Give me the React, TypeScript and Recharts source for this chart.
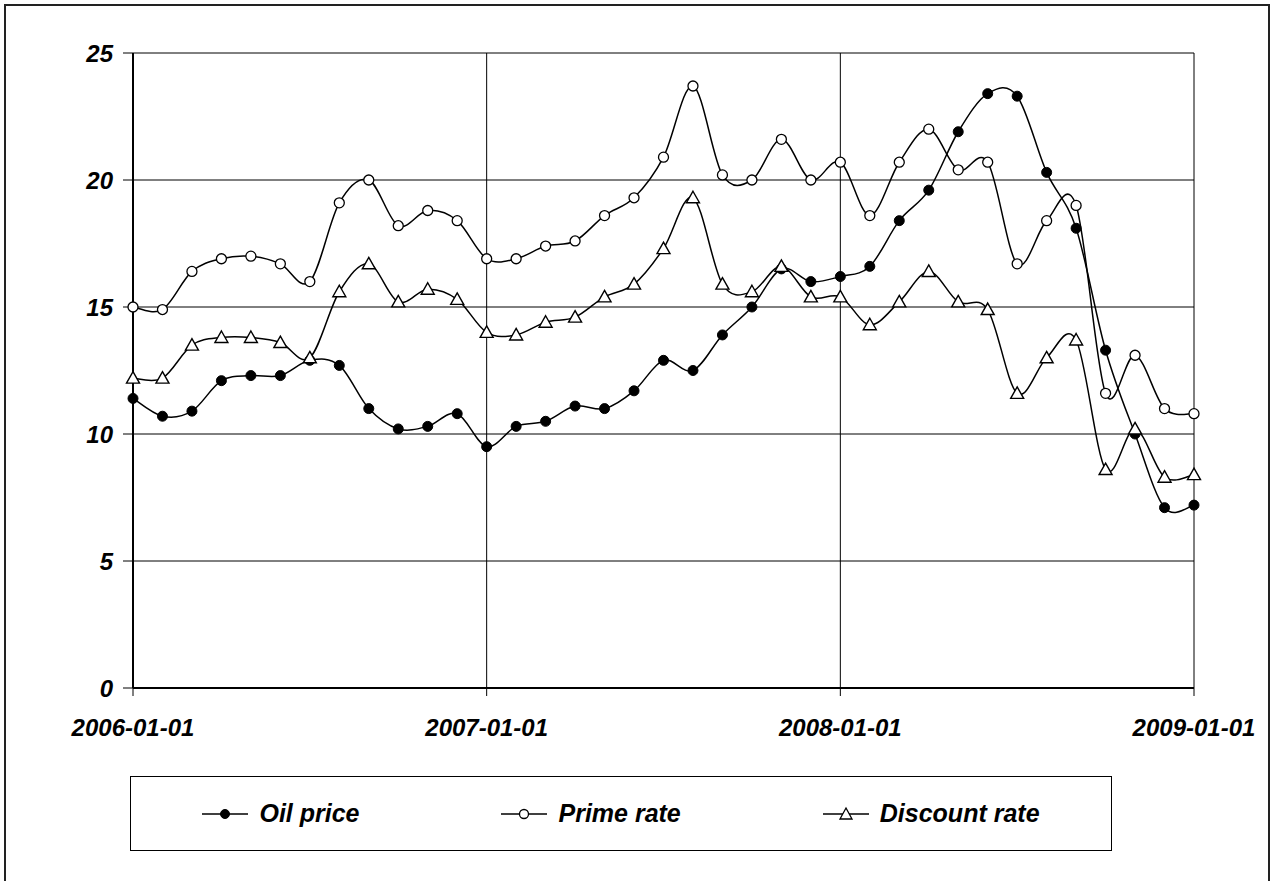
import React from "react"
import { LineChart, Line, XAxis, YAxis, CartesianGrid, Legend } from "recharts"

const months = [
  "2006-01", "2006-02", "2006-03", "2006-04", "2006-05", "2006-06", "2006-07", "2006-08", "2006-09", "2006-10", "2006-11", "2006-12",
  "2007-01", "2007-02", "2007-03", "2007-04", "2007-05", "2007-06", "2007-07", "2007-08", "2007-09", "2007-10", "2007-11", "2007-12",
  "2008-01", "2008-02", "2008-03", "2008-04", "2008-05", "2008-06", "2008-07", "2008-08", "2008-09", "2008-10", "2008-11", "2008-12",
  "2009-01",
]

const oilPrice = [
  11.4, 10.7, 10.9, 12.1, 12.3, 12.3, 12.9, 12.7, 11.0, 10.2, 10.3, 10.8,
  9.5, 10.3, 10.5, 11.1, 11.0, 11.7, 12.9, 12.5, 13.9, 15.0, 16.5, 16.0,
  16.2, 16.6, 18.4, 19.6, 21.9, 23.4, 23.3, 20.3, 18.1, 13.3, 10.0, 7.1,
  7.2,
]

const primeRate = [
  15.0, 14.9, 16.4, 16.9, 17.0, 16.7, 16.0, 19.1, 20.0, 18.2, 18.8, 18.4,
  16.9, 16.9, 17.4, 17.6, 18.6, 19.3, 20.9, 23.7, 20.2, 20.0, 21.6, 20.0,
  20.7, 18.6, 20.7, 22.0, 20.4, 20.7, 16.7, 18.4, 19.0, 11.6, 13.1, 11.0,
  10.8,
]

const discountRate = [
  12.2, 12.2, 13.5, 13.8, 13.8, 13.6, 13.0, 15.6, 16.7, 15.2, 15.7, 15.3,
  14.0, 13.9, 14.4, 14.6, 15.4, 15.9, 17.3, 19.3, 15.9, 15.6, 16.6, 15.4,
  15.4, 14.3, 15.2, 16.4, 15.2, 14.9, 11.6, 13.0, 13.7, 8.6, 10.2, 8.3,
  8.4,
]

const xTicks = [0, 12, 24, 36]
const xTickLabels = ["2006-01-01", "2007-01-01", "2008-01-01", "2009-01-01"]
const yTicks = [0, 5, 10, 15, 20, 25]

const data = months.map((date, i) => ({
  m: i,
  date,
  oil: oilPrice[i],
  prime: primeRate[i],
  discount: discountRate[i],
}))

const FONT = "'Liberation Sans', Arial, sans-serif"

const tickStyle = {
  fill: "#000",
  fontSize: 24,
  fontWeight: 700,
  fontStyle: "italic",
  fontFamily: FONT,
}

// Excel-like smoothing (Catmull-Rom through every point)
const smoothCurve = (context: any) => {
  let pts: [number, number][] = []
  return {
    areaStart() {},
    areaEnd() {},
    lineStart() {
      pts = []
    },
    point(x: number, y: number) {
      pts.push([+x, +y])
    },
    lineEnd() {
      const n = pts.length
      if (!n) return
      context.moveTo(pts[0][0], pts[0][1])
      for (let i = 0; i < n - 1; i++) {
        const p0 = pts[i - 1] || pts[i]
        const p1 = pts[i]
        const p2 = pts[i + 1]
        const p3 = pts[i + 2] || p2
        context.bezierCurveTo(
          p1[0] + (p2[0] - p0[0]) / 6,
          p1[1] + (p2[1] - p0[1]) / 6,
          p2[0] - (p3[0] - p1[0]) / 6,
          p2[1] - (p3[1] - p1[1]) / 6,
          p2[0],
          p2[1]
        )
      }
    },
  }
}

const Triangle = (props: any) => {
  const { cx, cy, index } = props
  if (cx == null || cy == null) return <g key={`t-${index}`} />
  return (
    <path
      key={`t-${index}`}
      d={`M${cx},${cy - 6.5} L${cx + 6.5},${cy + 5} L${cx - 6.5},${cy + 5} Z`}
      fill="#fff"
      stroke="#000"
      strokeWidth={1.4}
    />
  )
}

const series = [
  { key: "oil", name: "Oil price", marker: "filled" },
  { key: "prime", name: "Prime rate", marker: "open" },
  { key: "discount", name: "Discount rate", marker: "triangle" },
]

function LegendMarker({ kind }: { kind: string }) {
  return (
    <svg width={46} height={16} style={{ display: "block" }}>
      <line x1={0} y1={8} x2={46} y2={8} stroke="#000" strokeWidth={1.5} />
      {kind === "filled" && <circle cx={23} cy={8} r={4.5} fill="#000" stroke="#000" />}
      {kind === "open" && <circle cx={23} cy={8} r={4.5} fill="#fff" stroke="#000" strokeWidth={1.3} />}
      {kind === "triangle" && (
        <path d="M23,2 L29,13 L17,13 Z" fill="#fff" stroke="#000" strokeWidth={1.3} />
      )}
    </svg>
  )
}

function ChartLegend() {
  return (
    <div
      style={{
        width: 982,
        height: 75,
        boxSizing: "border-box",
        border: "1.5px solid #000",
        background: "#fff",
        display: "flex",
        alignItems: "center",
        justifyContent: "center",
        gap: 142,
      }}
    >
      {series.map((s) => (
        <div key={s.key} style={{ display: "flex", alignItems: "center", gap: 11 }}>
          <LegendMarker kind={s.marker} />
          <span
            style={{
              fontFamily: FONT,
              fontSize: 25,
              fontWeight: 700,
              fontStyle: "italic",
              color: "#000",
              whiteSpace: "nowrap",
            }}
          >
            {s.name}
          </span>
        </div>
      ))}
    </div>
  )
}

export default function App() {
  return (
    <div style={{ position: "absolute", left: 0, top: 0, width: 1272, height: 881, overflow: "hidden", background: "#fff" }}>
      <div
        style={{
          position: "absolute",
          left: 4,
          top: 4,
          width: 1266,
          height: 920,
          boxSizing: "border-box",
          border: "2px solid #222",
        }}
      />
      <LineChart
        width={1272}
        height={881}
        data={data}
        margin={{ top: 53, right: 78, bottom: 133, left: 0 }}
        style={{ position: "absolute", left: 0, top: 0 }}
      >
        <CartesianGrid
          stroke="#000"
          strokeWidth={1}
          horizontalValues={yTicks}
          verticalValues={xTicks}
        />
        <XAxis
          dataKey="m"
          type="number"
          domain={[0, 36]}
          ticks={xTicks}
          tickFormatter={(v: number) => xTickLabels[xTicks.indexOf(v)] ?? ""}
          interval={0}
          height={60}
          tickSize={8}
          tickMargin={23}
          axisLine={{ stroke: "#000", strokeWidth: 2 }}
          tickLine={{ stroke: "#000" }}
          tick={tickStyle}
        />
        <YAxis
          type="number"
          domain={[0, 25]}
          ticks={yTicks}
          interval={0}
          width={133}
          tickSize={10}
          tickMargin={10}
          axisLine={{ stroke: "#000", strokeWidth: 2 }}
          tickLine={{ stroke: "#000" }}
          tick={tickStyle}
        />
        <Legend
          layout="vertical"
          align="center"
          verticalAlign="middle"
          wrapperStyle={{ position: "absolute", left: 130, top: 776, width: 982, height: 75 }}
          content={() => <ChartLegend />}
        />
        <Line
          dataKey="oil"
          name="Oil price"
          type={smoothCurve as any}
          stroke="#000"
          strokeWidth={1.5}
          dot={{ r: 5, fill: "#000", stroke: "#000", strokeWidth: 1 }}
          isAnimationActive={false}
        />
        <Line
          dataKey="prime"
          name="Prime rate"
          type={smoothCurve as any}
          stroke="#000"
          strokeWidth={1.5}
          dot={{ r: 5, fill: "#fff", stroke: "#000", strokeWidth: 1.3 }}
          isAnimationActive={false}
        />
        <Line
          dataKey="discount"
          name="Discount rate"
          type={smoothCurve as any}
          stroke="#000"
          strokeWidth={1.5}
          dot={<Triangle />}
          isAnimationActive={false}
        />
      </LineChart>
    </div>
  )
}
